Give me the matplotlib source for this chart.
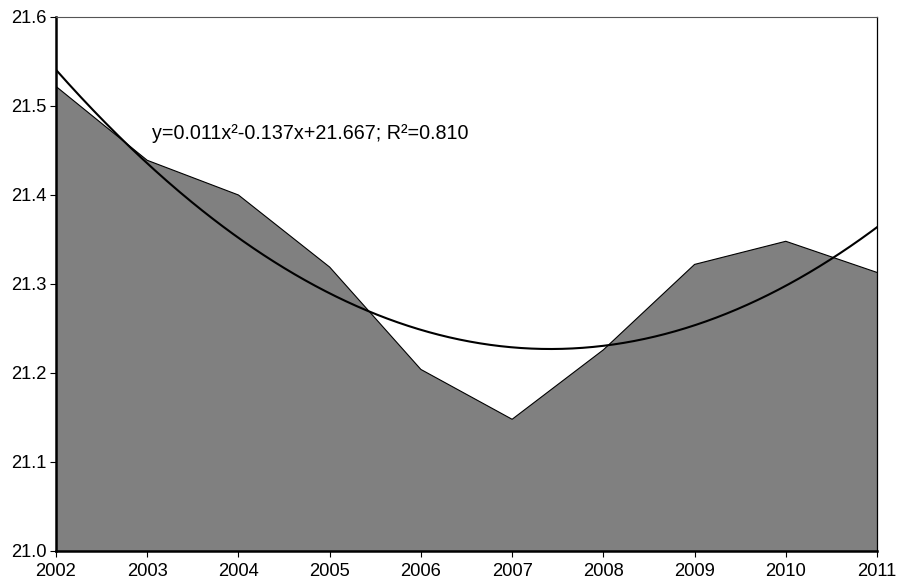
import numpy as np
import matplotlib
matplotlib.use("Agg")
import matplotlib.pyplot as plt

plt.rcParams['font.family'] = ['Liberation Sans', 'DejaVu Sans']

years = [2002, 2003, 2004, 2005, 2006, 2007, 2008, 2009, 2010, 2011]
values = [21.522, 21.439, 21.400, 21.319, 21.204, 21.148, 21.226, 21.322, 21.348, 21.313]
y_ticks = [21.0, 21.1, 21.2, 21.3, 21.4, 21.5, 21.6]
trend_label = "y=0.011x\u00b2-0.137x+21.667; R\u00b2=0.810"

fig = plt.figure(figsize=(9.03, 5.87), dpi=100)
ax = fig.add_axes([56 / 903, 36 / 587, (877 - 56) / 903, (551 - 17) / 587])

# Area series
ax.fill_between(years, values, 21.0, facecolor="#808080", edgecolor="none", zorder=1)
ax.plot(years, values, color="black", lw=0.8, zorder=2)

# Second-order polynomial trend on series index 1..n
idx = np.arange(1, len(years) + 1)
coef = np.polyfit(idx, values, 2)
xs = np.linspace(1, len(years), 400)
ax.plot(years[0] + xs - 1, np.polyval(coef, xs), color="black", lw=1.5, zorder=3)

ax.text(2003.05, 21.463, trend_label, fontsize=14.2, ha="left", va="baseline", zorder=4)

ax.set_xlim(years[0], years[-1])
ax.set_ylim(21.0, 21.6)
ax.set_xticks(years)
ax.set_yticks(y_ticks)
ax.set_yticklabels([f"{v:.1f}" for v in y_ticks])
ax.tick_params(axis="both", direction="out", length=4, width=0.8, labelsize=13.2)
ax.tick_params(axis="y", pad=3)
ax.tick_params(axis="x", pad=5)

for side in ("left", "bottom"):
    ax.spines[side].set_linewidth(1.8)
    ax.spines[side].set_color("black")
ax.spines["top"].set_linewidth(0.8)
ax.spines["top"].set_color("#555555")
ax.spines["right"].set_linewidth(0.9)
ax.spines["right"].set_color("black")
for s in ax.spines.values():
    s.set_zorder(5)

fig.savefig("out.png", dpi=100)
